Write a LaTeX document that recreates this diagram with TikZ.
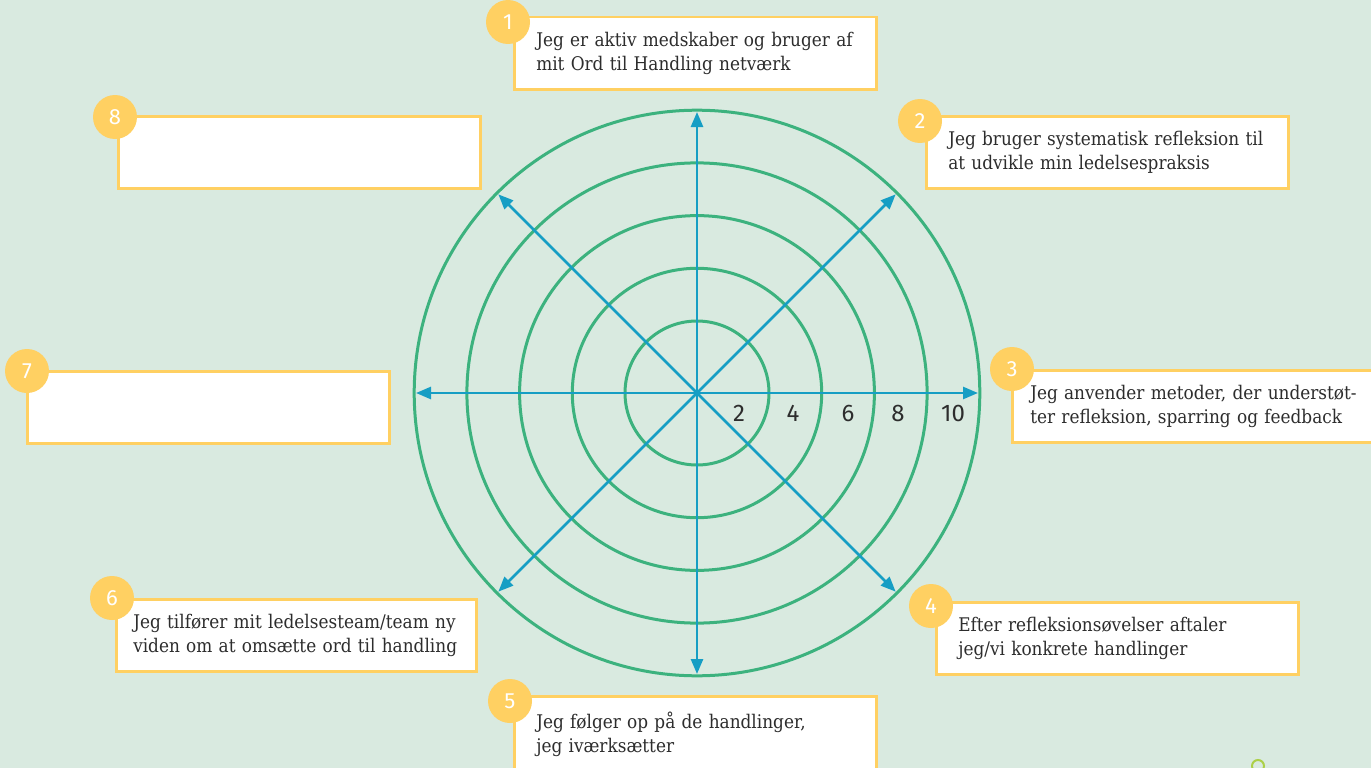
\documentclass[tikz,border=0pt]{standalone}
\usepackage{fontspec}
\setmainfont{DejaVu Serif}[FakeStretch=0.9]
\newfontfamily\numfont{Fira Sans}
\usetikzlibrary{arrows.meta,positioning}

\definecolor{bgmint}{RGB}{217,234,224}
\definecolor{ringgreen}{RGB}{60,178,126}
\definecolor{axisblue}{RGB}{22,158,196}
\definecolor{boxyellow}{RGB}{255,208,98}
\definecolor{textgray}{RGB}{45,45,45}
\definecolor{dotgreen}{RGB}{172,208,72}

\begin{document}
\begin{tikzpicture}[x=1pt,y=-1pt]

% Definitions
\tikzstyle{statement} = [rectangle, draw=boxyellow, line width=2.5pt, fill=white, anchor=north west, minimum width=362pt, minimum height=72pt, text width=318pt, inner xsep=22pt, inner ysep=4pt, align=left, text=textgray, font=\fontsize{18.8}{24}\selectfont]
\tikzstyle{badge} = [circle, fill=boxyellow, minimum size=44pt, inner sep=0pt, text=white, font=\numfont\fontsize{22}{22}\selectfont]
\tikzstyle{ring} = [ringgreen, line width=3pt]
\tikzstyle{axis} = [axisblue, line width=2.6pt, -{Triangle[length=15pt,width=12pt]}]
\tikzstyle{scalenum} = [inner sep=0pt, text=textgray, font=\numfont\fontsize{24}{24}\selectfont]

\clip (0,0) rectangle (1371,768);
\fill[bgmint] (0,0) rectangle (1371,768);

% Rings and axes
\coordinate (O) at (697,393);
\foreach \r in {72,124.7,177.4,230.1,282.8}
  \draw[ring] (O) circle[radius=\r pt];
\foreach \a in {0,45,...,315} {
  \path (O) ++(\a:281pt) coordinate (tip\a);
  \draw[axis] (O) -- (tip\a);
}

% Scale
\node (v2) [scalenum] at (739,413) {2};
\node (v4) [scalenum] at (793,413) {4};
\node (v6) [scalenum] at (848,413) {6};
\node (v8) [scalenum] at (898,413) {8};
\node (v10) [scalenum] at (953,413) {10};

% Statements
\node (s1) [statement] at (513,16) {Jeg er aktiv medskaber og bruger af\\mit Ord til Handling netværk};
\node (s2) [statement] at (925,115) {Jeg bruger systematisk refleksion til\\at udvikle min ledelsespraksis};
\node (s3) [statement, minimum width=380pt, text width=344pt, inner xsep=18pt] at (1011,369) {Jeg anvender metoder, der understøt-\\ter refleksion, sparring og feedback};
\node (s4) [statement] at (935,601) {Efter refleksionsøvelser aftaler\\jeg/vi konkrete handlinger};
\node (s5) [statement, minimum height=76pt] at (513,695) {Jeg følger op på de handlinger,\\jeg iværksætter};
\node (s6) [statement, minimum width=360pt, inner xsep=17pt, text width=326pt] at (115,598) {Jeg tilfører mit ledelsesteam/team ny\\viden om at omsætte ord til handling};
\node (s7) [statement] at (26,370) {};
\node (s8) [statement] at (117,115) {};

% Badges
\node (k1) [badge] at (508,22) {1};
\node (k2) [badge] at (920,121) {2};
\node (k3) [badge] at (1012,369) {3};
\node (k4) [badge] at (931,606) {4};
\node (k5) [badge] at (510,701) {5};
\node (k6) [badge] at (112,598) {6};
\node (k7) [badge] at (27,371) {7};
\node (k8) [badge] at (115,117) {8};

\draw[dotgreen, line width=2pt] (1258,766) circle[radius=6pt];

\end{tikzpicture}
\end{document}
